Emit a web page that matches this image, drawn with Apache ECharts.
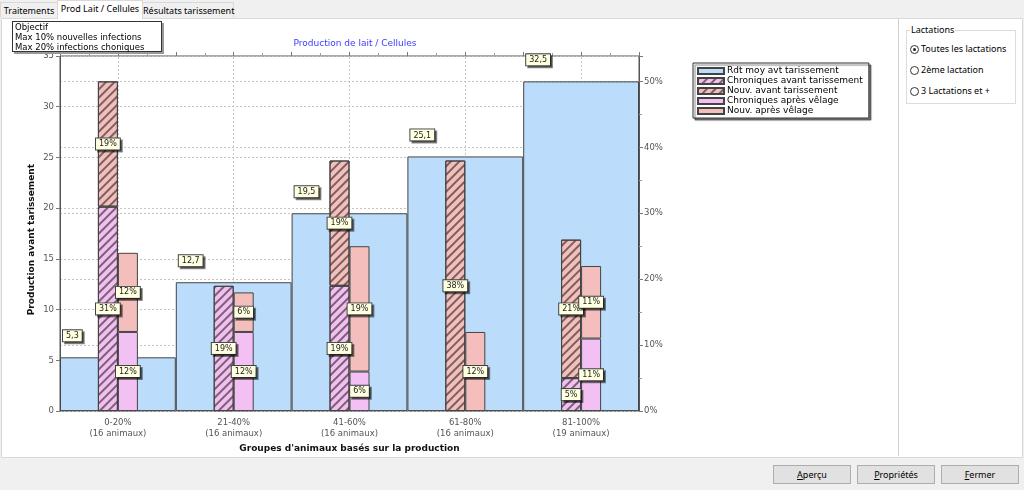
<!DOCTYPE html>
<html>
<head>
<meta charset="utf-8">
<script src="https://cdn.jsdelivr.net/npm/echarts@6/dist/echarts.min.js"></script>
<style>
  body { margin: 0; width: 1024px; height: 490px; background: #f0f0f0; position: relative; overflow: hidden;
         font-family: "Noto Sans", sans-serif; font-size: 9px; color: #000; }
  .tab { position: absolute; top: 2px; height: 15px; line-height: 15px; border: 1px solid #d9d9d9; border-bottom: none;
         background: #f0f0f0; padding: 0; box-sizing: border-box; white-space: nowrap; text-align: center; }
  .tab.on { top: 0; height: 19px; background: #fff; z-index: 3; }
  #panel { position: absolute; left: 1px; top: 18px; width: 1020px; height: 438px; background: #fff; border: 1px solid #d9d9d9; }
  #chart { position: absolute; left: 0; top: 0; width: 898px; height: 458px; z-index: 2; }
  #objectif { position: absolute; left: 12px; top: 21px; width: 144px; height: 29px; background: #fff; border: 1px solid #333;
              box-shadow: 2px 2px 0 #999; font-family: "DejaVu Sans", sans-serif; font-size: 8.5px; line-height: 10px;
              padding: 0 2px; z-index: 4; }
  #sep { position: absolute; left: 898px; top: 19px; height: 437px; border-left: 1px solid #cfcfcf; }
  #grp { position: absolute; left: 906px; top: 30px; width: 108px; height: 72px; border: 1px solid #dcdcdc; }
  #grpt { position: absolute; left: 910px; top: 23px; background: #fff; padding: 0 1px; }
  .radio { position: absolute; left: 910px; white-space: nowrap; }
  .radio i { display: inline-block; width: 9px; height: 9px; border: 1px solid #333; border-radius: 50%; vertical-align: -2px;
             margin-right: 2px; box-sizing: border-box; position: relative; }
  .radio i.sel::after { content: ""; position: absolute; left: 2px; top: 2px; width: 3px; height: 3px; background: #222; border-radius: 50%; }
  .btn { position: absolute; top: 465px; width: 78px; height: 19px; line-height: 18px; text-align: center; background: #e1e1e1;
         border: 1px solid #adadad; box-sizing: border-box; }
</style>
</head>
<body>
<div class="tab" style="left:0;width:58px">Traitements</div>
<div class="tab on" style="left:57px;width:86px">Prod Lait / Cellules</div>
<div class="tab" style="left:142px;width:92px">Résultats tarissement</div>
<div id="panel"></div>
<div id="chart"></div>
<div id="objectif">Objectif<br>Max 10% nouvelles infections<br>Max 20% infections choniques</div>
<div id="sep"></div>
<div id="grp"></div>
<div id="grpt">Lactations</div>
<div class="radio" style="top:42px"><i class="sel"></i>Toutes les lactations</div>
<div class="radio" style="top:63px"><i></i>2ème lactation</div>
<div class="radio" style="top:84px"><i></i>3 Lactations et +</div>
<div class="btn" style="left:773px"><u>A</u>perçu</div>
<div class="btn" style="left:857px"><u>P</u>ropriétés</div>
<div class="btn" style="left:941px"><u>F</u>ermer</div>

<script>
// Data
const categories = ["0-20%", "21-40%", "41-60%", "61-80%", "81-100%"];
const animaux = [16, 16, 16, 16, 19];
const rdtMoy = [5.3, 12.7, 19.5, 25.1, 32.5];           // left axis
const chroniquesAvant = [31, 19, 19, 0, 5];              // right axis, %
const nouvAvant = [19, 0, 19, 38, 21];
const chroniquesApres = [12, 12, 6, 0, 11];
const nouvApres = [12, 6, 19, 12, 11];
const leftTicks = { min: 0, max: 35, interval: 5 };
const rightTicks = { min: 0, max: 35 / 0.65, interval: 10 };

const FONT = "DejaVu Sans";

const beigeLabel = {
  show: true,
  position: 'inside',
  color: '#222',
  fontFamily: FONT,
  fontSize: 8,
  backgroundColor: '#ffffe1',
  borderColor: '#444',
  borderWidth: 1,
  padding: [2, 3, 1, 3],
  shadowColor: 'rgba(0,0,0,0.45)',
  shadowOffsetX: 2,
  shadowOffsetY: 2
};

const hatch = {
  symbol: 'rect',
  symbolSize: 1,
  dashArrayX: [[1, 0]],
  dashArrayY: [1.2, 3.6],
  rotation: -Math.PI / 4,
  color: 'rgba(50,30,30,0.6)'
};

function stackSeries(name, values, stack, color, hatched) {
  return {
    name: name,
    type: 'bar',
    xAxisIndex: 1,
    yAxisIndex: 1,
    stack: stack,
    barWidth: 20,
    barGap: '0%',
    z: 3,
    data: values.map(v => (v === 0 ? null : v)),
    itemStyle: Object.assign({ color: color, borderColor: '#444', borderWidth: 1 }, hatched ? { decal: hatch } : {}),
    label: Object.assign({}, beigeLabel, { formatter: p => p.value + '%' })
  };
}

function initChart() {
  const chart = echarts.init(document.getElementById('chart'));
  const axisText = { color: '#555', fontFamily: FONT, fontSize: 8.5 };
  const gridLine = { show: true, lineStyle: { color: '#c4c4c4', type: [2, 2], width: 1 } };

  const option = {
    animation: false,
    textStyle: { fontFamily: FONT },
    title: {
      text: 'Production de lait / Cellules',
      left: 350, textAlign: 'center', top: 34,
      textStyle: { color: '#3b3bff', fontSize: 9, fontWeight: 'normal', fontFamily: FONT }
    },
    legend: {
      orient: 'vertical',
      left: 693, top: 63,
      itemWidth: 26, itemHeight: 6, itemGap: 0,
      padding: [3, 6, 2, 4],
      backgroundColor: '#fff',
      borderColor: '#333', borderWidth: 1,
      shadowColor: 'rgba(0,0,0,0.5)', shadowOffsetX: 2, shadowOffsetY: 2, shadowBlur: 1,
      icon: 'rect',
      textStyle: { color: '#000', fontSize: 9, fontFamily: FONT, padding: [0, 0, 0, -2], lineHeight: 10 },
      data: ['Rdt moy avt tarissement', 'Chroniques avant tarissement', 'Nouv. avant tarissement',
             'Chroniques après vêlage', 'Nouv. après vêlage']
    },
    grid: { left: 60, top: 56, width: 579, height: 357, show: true, borderColor: '#555', borderWidth: 1, backgroundColor: '#fff' },
    graphic: [{
      type: 'text', left: 27, top: 164, rotation: Math.PI / 2,
      style: { text: 'Production avant tarissement', fill: '#111', font: 'bold 9px "DejaVu Sans"' }
    }],
    xAxis: [
      {
        type: 'category',
        data: categories.map((c, i) => c + '\n(' + animaux[i] + ' animaux)'),
        axisLine: { show: false },
        axisTick: { show: false },
        axisLabel: Object.assign({}, axisText, { margin: 6, lineHeight: 11 }),
        name: "Groupes d'animaux basés sur la production",
        nameLocation: 'middle', nameGap: 31,
        nameTextStyle: { color: '#111', fontWeight: 'bold', fontSize: 9, fontFamily: FONT }
      },
      { type: 'category', data: categories, show: false },
      {
        type: 'value', min: 0, max: categories.length, interval: 0.5,
        axisLine: { show: false }, axisLabel: { show: false }, splitLine: { show: false },
        axisTick: { show: true, length: 4, lineStyle: { color: '#777' } },
        minorTick: { show: true, splitNumber: 2, length: 3, lineStyle: { color: '#999' } }
      }
    ],
    yAxis: [
      {
        type: 'value', min: leftTicks.min, max: leftTicks.max, interval: leftTicks.interval,
        axisLine: { show: true, lineStyle: { color: '#555' } },
        axisTick: { show: true, length: 4, lineStyle: { color: '#777' } },
        axisLabel: Object.assign({}, axisText, { margin: 6 }),
        splitLine: gridLine
      },
      {
        type: 'value', position: 'right', min: rightTicks.min, max: rightTicks.max, interval: rightTicks.interval,
        axisLine: { show: true, lineStyle: { color: '#555' } },
        axisTick: { show: true, length: 4, lineStyle: { color: '#777' } },
        minorTick: { show: true, splitNumber: 2, length: 3, lineStyle: { color: '#999' } },
        axisLabel: Object.assign({}, axisText, { margin: 5, formatter: '{value}%', showMaxLabel: false }),
        splitLine: gridLine
      }
    ],
    series: [
      {
        name: 'Rdt moy avt tarissement',
        type: 'bar',
        xAxisIndex: 0, yAxisIndex: 0,
        barCategoryGap: '0%',
        z: 2,
        data: rdtMoy,
        itemStyle: { color: '#bcdcfb', borderColor: '#444', borderWidth: 1 },
        label: Object.assign({}, beigeLabel, {
          position: [3, -27],
          formatter: p => String(p.value).replace('.', ',')
        }),
        markLine: {
          silent: true, symbol: 'none', z: 1,
          label: { show: false },
          lineStyle: { color: '#c4c4c4', type: [2, 2], width: 1 },
          data: categories.map((c, i) => ({ xAxis: i }))
        }
      },
      stackSeries('Chroniques avant tarissement', chroniquesAvant, 'avant', '#f0c0f2', true),
      stackSeries('Nouv. avant tarissement', nouvAvant, 'avant', '#f2c0bc', true),
      stackSeries('Chroniques après vêlage', chroniquesApres, 'apres', '#f3c0f3', false),
      stackSeries('Nouv. après vêlage', nouvApres, 'apres', '#f3bebc', false)
    ]
  };
  chart.setOption(option);
}

document.addEventListener('DOMContentLoaded', initChart);
</script>
</body>
</html>
